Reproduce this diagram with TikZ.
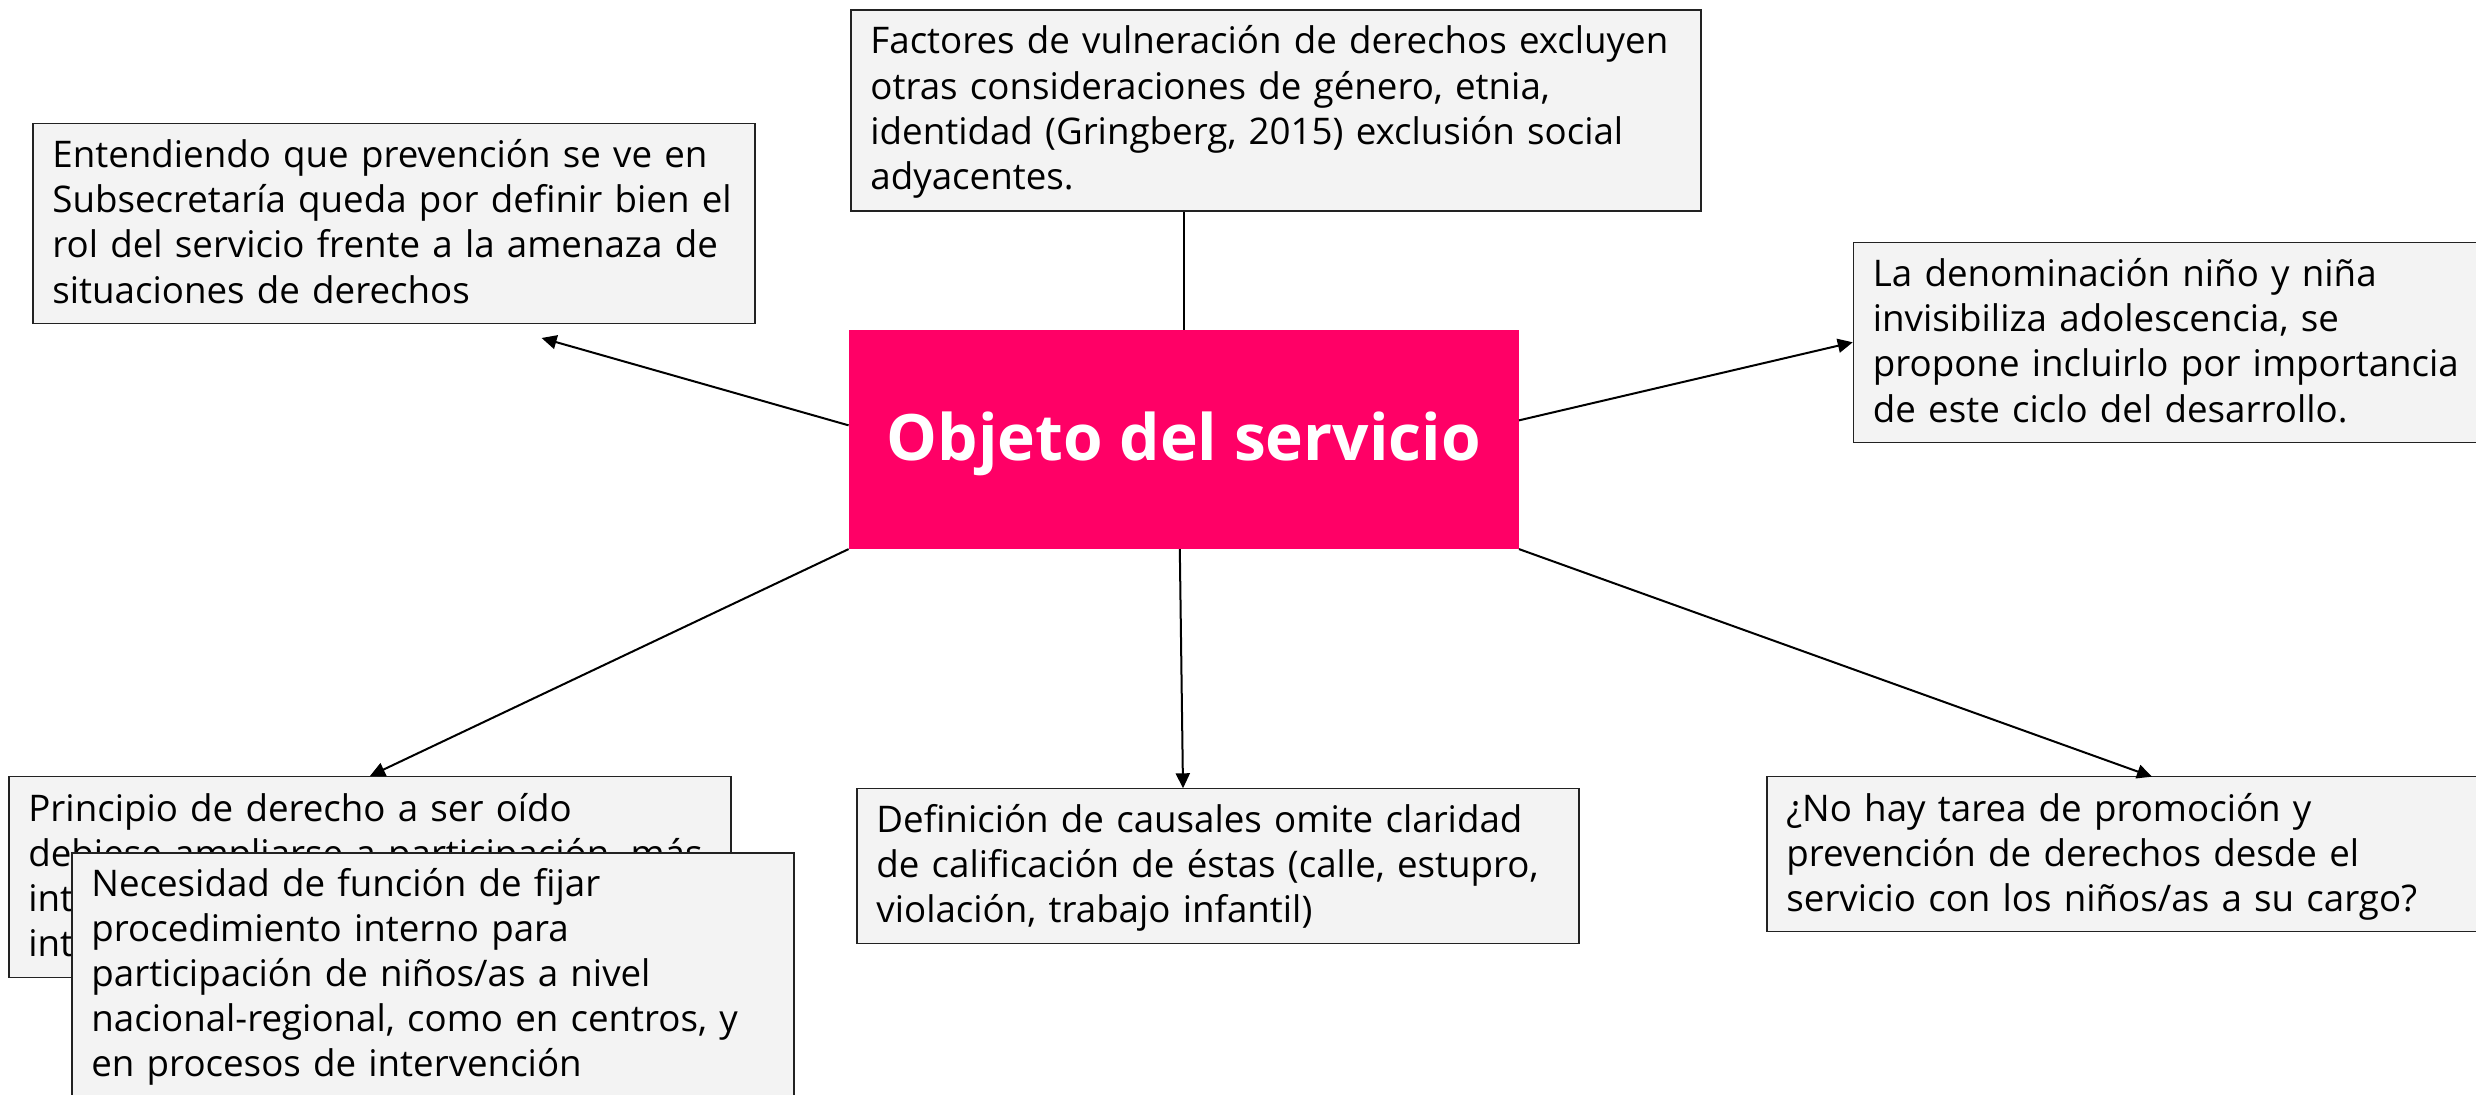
\documentclass[tikz,border=0pt]{standalone}
\usepackage{fontspec}
\setmainfont{Open Sans}
\usetikzlibrary{arrows.meta,calc}
\definecolor{boxgray}{HTML}{F3F3F3}
\definecolor{pinkc}{HTML}{FF0066}
\definecolor{edgec}{HTML}{222222}
\begin{document}
\begin{tikzpicture}[x=0.5pt,y=-0.5pt,
  nbox/.style={draw=edgec, fill=boxgray, line width=0.75pt, inner sep=0pt, minimum width=361pt},
  ntext/.style={anchor=base west, inner sep=0pt, text width=440pt, align=left,
    font=\fontsize{18.35pt}{22.6pt}\selectfont},
  cbox/.style={fill=pinkc, inner sep=0pt, minimum width=334.8pt, minimum height=109.35pt},
  conn/.style={draw=black, line width=1pt},
  arr/.style={conn, -{Triangle[length=7.5pt,width=7pt]}}]
\useasboundingbox (0,0) rectangle (2476,1095);

% boxes
\node[nbox, minimum width=425pt, minimum height=100.5pt] (fact) at (1276,110.5) {};
\node[ntext] (factt) at (870,54) {Factores de vulneración de derechos excluyen\\otras consideraciones de género, etnia,\\identidad (Gringberg, 2015) exclusión social\\adyacentes.};

\node[nbox, minimum height=100pt] (ente) at (393.75,223.3) {};
\node[ntext] (entet) at (52,167.5) {Entendiendo que prevención se ve en\\Subsecretaría queda por definir bien el\\rol del servicio frente a la amenaza de\\situaciones de derechos};

\node[nbox, minimum height=100pt] (lad) at (2214.5,342.3) {};
\node[ntext] (ladt) at (1872.5,286.5) {La denominación niño y niña\\invisibiliza adolescencia, se\\propone incluirlo por importancia\\de este ciclo del desarrollo.};

\node[nbox, minimum height=100.3pt] (prin) at (370,877) {};
\node[ntext] (print) at (28,821) {Principio de derecho a ser oído\\debiese ampliarse a participación, más\\int\\int};

\node[nbox, minimum height=122.5pt] (nece) at (433,975.5) {};
\node[ntext] (necet) at (91,896) {Necesidad de función de fijar\\procedimiento interno para\\participación de niños/as a nivel\\nacional-regional, como en centros, y\\en procesos de intervención};

\node[nbox, minimum height=77.5pt] (defi) at (1218,865.8) {};
\node[ntext] (defit) at (876,832.5) {Definición de causales omite claridad\\de calificación de éstas (calle, estupro,\\violación, trabajo infantil)};

\node[nbox, minimum height=77.5pt] (nohay) at (2128,854.2) {};
\node[ntext] (nohayt) at (1786,821) {¿No hay tarea de promoción y\\prevención de derechos desde el\\servicio con los niños/as a su cargo?};

% central
\node[cbox] (cent) at (1183.8,439.35) {};
\node[anchor=base, inner sep=0pt, text=white, font=\fontsize{32pt}{38pt}\selectfont\bfseries] (centt) at (1183.8,460.7) {Objeto del servicio};

% connector end points
\coordinate (tipL) at (541.6,338);
\coordinate (tipB) at (1183,788.3);
\coordinate (tipR) at (2152,776.7);

% connectors
\draw[conn] (cent.north) -- (cent.north |- fact.south);
\draw[arr] ($(cent.west)+(0,-14)$) -- (tipL);
\draw[arr] ($(cent.east)+(0,-19)$) -- (lad.west);
\draw[arr] (cent.south west) -- (prin.north);
\draw[arr] ($(cent.south)+(-4,0)$) -- (tipB);
\draw[arr] (cent.south east) -- (tipR);
\end{tikzpicture}
\end{document}
